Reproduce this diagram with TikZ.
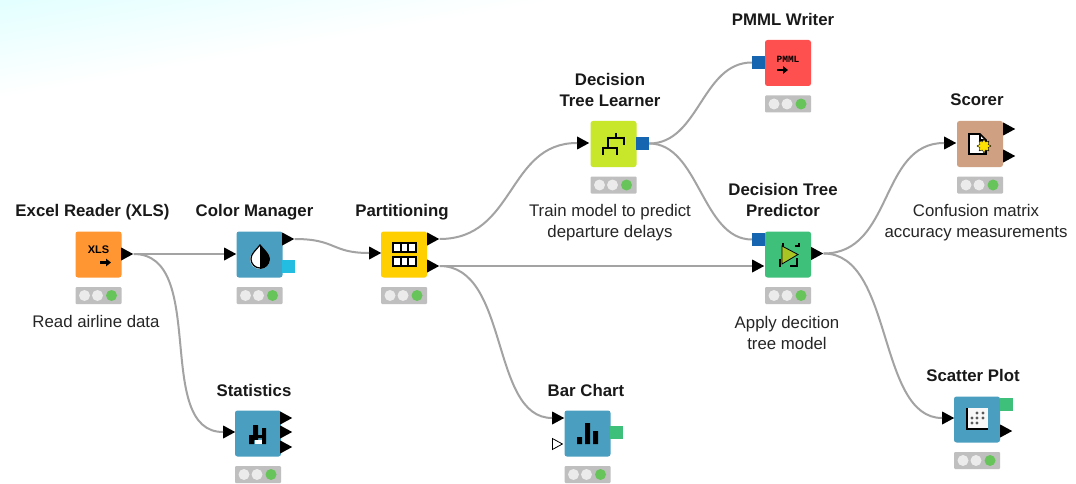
\documentclass[tikz,border=0pt]{standalone}
\usepackage{fontspec}
\setmainfont{Liberation Sans}
\setmonofont{Liberation Mono}
\usetikzlibrary{shapes.geometric,arrows.meta,calc}
\definecolor{cOrange}{HTML}{FF9632}
\definecolor{cBlue}{HTML}{4A9FC0}
\definecolor{cYellow}{HTML}{FFCF00}
\definecolor{cLime}{HTML}{C8E62A}
\definecolor{cRed}{HTML}{FF5050}
\definecolor{cTan}{HTML}{CFA081}
\definecolor{cGreen}{HTML}{3FC07A}
\definecolor{cModel}{HTML}{1565B0}
\definecolor{cCyan}{HTML}{22BDE0}
\definecolor{cLight}{HTML}{66C45A}
\definecolor{cWire}{HTML}{A3A3A3}
\tikzset{
  x=1pt,y=-1pt,
  box/.style={rectangle,rounded corners=2.5pt,minimum size=46pt,inner sep=0pt,fill=#1},
  tray/.style={rectangle,rounded corners=1pt,minimum width=46pt,minimum height=17pt,inner sep=0pt,fill=black!25},
  lamp/.style={circle,minimum size=11pt,inner sep=0pt,fill=#1},
  tri/.style={isosceles triangle,isosceles triangle apex angle=60,isosceles triangle stretches,
     minimum width=13pt,minimum height=12pt,inner sep=0pt,fill=black,anchor=west},
  hollow/.style={tri,fill=white,draw=black,line width=.8pt,minimum width=11pt,minimum height=10pt},
  sq/.style={rectangle,minimum size=13pt,inner sep=0pt,fill=#1},
  title/.style={font=\fontsize{16.8}{21}\selectfont\bfseries,align=center,inner sep=0pt,text=black!90},
  note/.style={font=\fontsize{16.8}{21}\selectfont,align=center,inner sep=0pt,text=black!85},
  wire/.style={draw=cWire,line width=2pt},
  ink/.style={draw=black,line width=2.4pt},
  go/.style={draw=black,line width=2.2pt,-{Triangle[length=5pt,width=7.5pt]}},
}
% name, centre x, centre y, colour
\newcommand{\knode}[4]{%
  \node[box=#4] (#1) at (#2,#3) {};
  \node[tray] (#1tray) at (#2,#3+41) {};
  \node[lamp=black!8] (#1a) at ($(#1tray)+(-14,0)$) {};
  \node[lamp=black!8] (#1b) at ($(#1tray)+(-1,0)$) {};
  \node[lamp=cLight] (#1c) at ($(#1tray)+(13,0)$) {};
}
\begin{document}
\begin{tikzpicture}
\useasboundingbox (0,0) rectangle (1076,484);
\fill[white] (0,0) rectangle (1076,484);
\begin{scope}
  \clip (0,0) rectangle (1076,484);
  \shade[transform canvas={shift={(0,98)},rotate=10},top color=cyan!12,bottom color=white]
     (-200,0) rectangle (800,-104);
\end{scope}

% nodes
\knode{excel}{98.5}{254.5}{cOrange}
\knode{color}{259.5}{254.5}{cBlue}
\knode{part}{404}{254.5}{cYellow}
\knode{learn}{613.5}{144}{cLime}
\knode{pmml}{788}{63}{cRed}
\knode{scorer}{980}{144}{cTan}
\knode{pred}{788}{254.5}{cGreen}
\knode{stats}{258}{433.5}{cBlue}
\knode{bar}{587.5}{433.5}{cBlue}
\knode{scatter}{977}{419.5}{cBlue}

% ports
\node[tri] (excelOut) at (121,254) {};
\node[tri] (colorIn) at (224,254) {};
\node[tri] (colorOut) at (282,239) {};
\node[sq=cCyan] (colorFlow) at (288.5,266.5) {};
\node[tri] (partIn) at (369,253) {};
\node[tri] (partOutA) at (427,239) {};
\node[tri] (partOutB) at (427,266) {};
\node[tri] (learnIn) at (577,143) {};
\node[sq=cModel] (learnOut) at (642.5,143.5) {};
\node[sq=cModel] (pmmlIn) at (758.5,62.5) {};
\node[sq=cModel] (predModel) at (758.5,239.5) {};
\node[tri] (predIn) at (752,266) {};
\node[tri] (predOut) at (811,253.5) {};
\node[tri] (scorerIn) at (944,143) {};
\node[tri] (scorerOutA) at (1003,129) {};
\node[tri] (scorerOutB) at (1003,156) {};
\node[tri] (statsIn) at (223,432) {};
\node[tri] (statsOutA) at (280,418) {};
\node[tri] (statsOutB) at (280,432) {};
\node[tri] (statsOutC) at (280,447) {};
\node[tri] (barIn) at (552,418) {};
\node[hollow] (barIn2) at (552,444) {};
\node[sq=cGreen] (barOut) at (616.5,432.5) {};
\node[tri] (scatIn) at (942,418) {};
\node[tri] (scatOut) at (1000,431) {};
\node[sq=cGreen] (scatView) at (1006.5,404.5) {};

% connectors
\draw[wire] (excelOut.apex) -- (colorIn.west);
\draw[wire] (excelOut.apex) .. controls +(75,0) and +(-70,0) .. (statsIn.west);
\draw[wire] (colorOut.apex) .. controls +(42,0) and +(-38,0) .. (partIn.west);
\draw[wire] (partOutA.apex) .. controls +(76,0) and +(-70,0) .. (learnIn.west);
\draw[wire] (partOutB.apex) -- (predIn.west);
\draw[wire] (partOutB.apex) .. controls +(70,0) and +(-62,0) .. (barIn.west);
\draw[wire] (learnOut.east) .. controls +(50,0) and +(-50,0) .. (pmmlIn.west);
\draw[wire] (learnOut.east) .. controls +(50,0) and +(-50,0) .. (predModel.west);
\draw[wire] (predOut.apex) .. controls +(70,0) and +(-65,0) .. (scorerIn.west);
\draw[wire] (predOut.apex) .. controls +(70,0) and +(-65,0) .. (scatIn.west);

% titles
\node[title] (t1) at (92.5,212.5) {Excel Reader (XLS)};
\node[title] (t2) at (254.5,212.5) {Color Manager};
\node[title] (t3) at (402,212.5) {Partitioning};
\node[title] (t4) at (610,89.5) {Decision\\Tree Learner};
\node[title] (t5) at (783,19) {PMML Writer};
\node[title] (t6) at (977,100) {Scorer};
\node[title] (t7) at (783,199.5) {Decision Tree\\Predictor};
\node[title] (t8) at (254,390) {Statistics};
\node[title] (t9) at (586,390) {Bar Chart};
\node[title] (t10) at (973,375) {Scatter Plot};
% notes
\node[note] (n1) at (96,321) {Read airline data};
\node[note] (n2) at (610,223) {Train model to predict\\departure delays};
\node[note] (n3) at (787,332.5) {Apply decition\\tree model};
\node[note] (n4) at (976,223) {Confusion matrix\\accuracy measurements};

% icons: Excel reader
\node[font=\fontsize{11}{11}\selectfont\bfseries,inner sep=0pt] (xlsT) at (98.5,250) {XLS};
\draw[go] (100,262.5) -- (111,262.5);
% Color manager drop
\fill[white] (260,245) .. controls (255,251) and (250,254) .. (250,259) arc[start angle=180,end angle=0,radius=10] .. controls (270,254) and (265,251) .. (260,245) -- cycle;
\fill[black] (260,245) .. controls (265,251) and (270,254) .. (270,259) arc[start angle=0,end angle=90,radius=10] -- cycle;
\draw[black,line width=1.2pt] (260,245) .. controls (255,251) and (251,254) .. (251,259) arc[start angle=180,end angle=0,radius=9] .. controls (269,254) and (265,251) .. (260,245) -- cycle;
% Partitioning tables
\foreach \yy in {243,257}{
  \draw[black,fill=white,line width=1.8pt] (393,\yy) rectangle (416,\yy+9);
  \draw[black,line width=1.8pt] (400.7,\yy) -- (400.7,\yy+9) (408.3,\yy) -- (408.3,\yy+9);
}
% Tree icon
\draw[ink] (616,133) -- (616,138) (607,138) -- (625,138) (624,137) -- (624,145)
  (608,137) -- (608,148) (602,148) -- (618,148) (603,147) -- (603,155) (617,147) -- (617,155);
% PMML
\node[font=\fontsize{9.5}{10}\selectfont\bfseries\ttfamily,inner sep=0pt] (pmmlT) at (788,59) {PMML};
\draw[go] (777,70) -- (788,70);
% Scorer
\fill[white,draw=black,line width=1.6pt] (969,134) -- (980,134) -- (986,140) -- (986,154) -- (969,154) -- cycle;
\draw[black,line width=1.2pt] (980,134) -- (980,140) -- (986,140);
\node[star,star points=8,star point ratio=1.6,minimum size=14pt,inner sep=0pt,fill=yellow!85!orange,draw=black,line width=.4pt] (scoreStar) at (984,146) {};
% Predictor
\draw[ink] (783,250) -- (783,243) (780,259) -- (780,267) (795,246) -- (799,246) -- (799,243) (790,266) -- (797,266) -- (797,258);
\fill[cLime!85!black,draw=black,line width=.8pt] (782,246) -- (798,254.5) -- (782,264) -- cycle;
% Statistics
\fill[black] (249,435) rectangle (254,444) (253,425) rectangle (258,440) (262,428) rectangle (266,444) (253,435) rectangle (266,438);
\fill[white] (255,440) rectangle (262,444);
% Bar chart
\fill[black] (577,437) rectangle (582,444) (585,423) rectangle (590,444) (593,431) rectangle (598,444);
% Scatter
\fill[black!3] (967,408) rectangle (988,429);
\draw[black,line width=1.4pt] (967,408) -- (967,429) -- (988,429);
\foreach \dx/\dy in {977/413,983/413,972/418,977/418,983/418,972/423,977/423}
  \fill[black!65] (\dx,\dy) circle (1.6);
\end{tikzpicture}
\end{document}
